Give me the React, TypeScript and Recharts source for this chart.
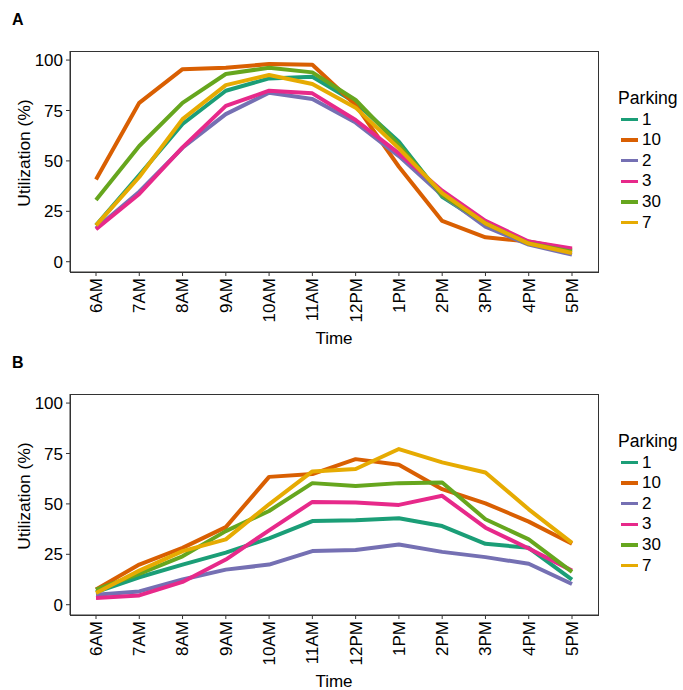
import React from "react";
import { Line, LineChart, XAxis, YAxis } from "recharts";

const times = ["6AM", "7AM", "8AM", "9AM", "10AM", "11AM", "12PM", "1PM", "2PM", "3PM", "4PM", "5PM"];
const yTicks = [0, 25, 50, 75, 100];

const lotNames = ["1", "10", "2", "3", "30", "7"];
const lotColors = ["#1B9E77", "#D95F02", "#7570B3", "#E7298A", "#66A61E", "#E6AB02"];

// panel A
const a1 = [18, 43, 68.3, 84.8, 90.9, 91.7, 79, 59.5, 32.2, 18.5, 9, 5.4];
const a10 = [40.8, 78.8, 95.5, 96.2, 98, 97.7, 77.7, 47.1, 20.2, 12.1, 10, 6];
const a2 = [16.5, 34.7, 56.5, 73.2, 83.8, 80.7, 69, 52.4, 33, 17.4, 8.5, 3.5];
const a3 = [16.1, 33.6, 56.7, 77.3, 84.8, 83.5, 70.3, 53.7, 35.2, 20.3, 10, 6.6];
const a30 = [30.6, 57.4, 78.8, 93.1, 96.2, 93.9, 80.2, 57.9, 33, 19, 9, 5];
const a7 = [18, 42, 70.7, 87.6, 92.6, 88.1, 76.4, 56.2, 34, 19, 9, 4.3];

// panel B
const b1 = [6.3, 13.6, 19.9, 25.8, 32.9, 41.5, 41.9, 42.9, 39, 30.2, 28.2, 12.5];
const b10 = [7.5, 19.9, 28.2, 38.5, 63.4, 64.8, 72.2, 69.4, 57.3, 50.3, 41.2, 30.2];
const b2 = [5, 6.6, 12.5, 17.4, 19.9, 26.6, 27.1, 29.9, 26.2, 23.6, 20.3, 10.3];
const b3 = [3.3, 4.6, 11.3, 22.4, 36.9, 51, 50.7, 49.5, 54, 38.2, 27.9, 16.9];
const b30 = [7.5, 15.3, 24, 36.5, 46.5, 60.3, 58.9, 60.3, 60.6, 42.4, 32.4, 16.3];
const b7 = [5.8, 16.9, 26.6, 32.4, 49.8, 66.1, 67.3, 77.2, 70.6, 65.6, 47.3, 30.7];

const FONT = '"Liberation Sans", Arial, sans-serif';

const buildRows = (series: number[][]) =>
  times.map((time, i) => {
    const row: Record<string, string | number> = { time };
    lotNames.forEach((name, k) => {
      row[name] = series[k][i];
    });
    return row;
  });

const TimeTick = ({ x, y, payload }: any) => (
  <text
    x={x}
    y={y}
    transform={`rotate(-90 ${x} ${y})`}
    textAnchor="end"
    dy="0.35em"
    fontSize={17}
    fontFamily={FONT}
    fill="#000"
  >
    {payload.value}
  </text>
);

function Panel({ label, top, series }: { label: string; top: number; series: number[][] }) {
  const rows = buildRows(series);
  return (
    <div style={{ position: "absolute", left: 0, top, width: 683, height: 343 }}>
      <LineChart
        width={683}
        height={343}
        data={rows}
        margin={{ top: 51, right: 85, bottom: 0, left: 0 }}
      >
        <XAxis
          dataKey="time"
          height={71}
          interval={0}
          padding={{ left: 26, right: 26 }}
          tickSize={4}
          tick={<TimeTick />}
          stroke="#333"
        />
        <YAxis
          width={70}
          domain={[-5.1, 104.5]}
          ticks={yTicks}
          allowDataOverflow
          tickSize={4}
          tickMargin={3}
          stroke="#333"
          tick={{ fill: "#000", fontSize: 17, fontFamily: FONT }}
        />
        {lotNames.map((name, k) => (
          <Line
            key={name}
            dataKey={name}
            stroke={lotColors[k]}
            strokeWidth={4}
            strokeLinejoin="round"
            dot={false}
            activeDot={false}
            isAnimationActive={false}
          />
        ))}
      </LineChart>

      {/* panel border */}
      <div
        style={{
          position: "absolute",
          left: 70,
          top: 51,
          width: 529,
          height: 222,
          boxSizing: "border-box",
          border: "1px solid #333",
          pointerEvents: "none",
        }}
      />

      <div style={{ position: "absolute", left: 12, top: 11, fontFamily: FONT, fontWeight: "bold", fontSize: 16 }}>
        {label}
      </div>
      <div
        style={{
          position: "absolute",
          left: 23.5,
          top: 153,
          transform: "translate(-50%, -50%) rotate(-90deg)",
          whiteSpace: "nowrap",
          fontFamily: FONT,
          fontSize: 17.4,
        }}
      >
        Utilization (%)
      </div>
      <div
        style={{
          position: "absolute",
          left: 334,
          top: 339,
          transform: "translate(-50%, -50%)",
          fontFamily: FONT,
          fontSize: 17,
        }}
      >
        Time
      </div>

      <div style={{ position: "absolute", left: 618, top: 88, fontFamily: FONT, fontSize: 17.6, lineHeight: "20px" }}>
        Parking
      </div>
      {lotNames.map((name, k) => (
        <div
          key={name}
          style={{
            position: "absolute",
            left: 621,
            top: 109.5 + k * 20.6,
            height: 20,
            display: "flex",
            alignItems: "center",
            fontFamily: FONT,
            fontSize: 17,
          }}
        >
          <div style={{ width: 16.5, height: 3.5, background: lotColors[k], marginRight: 4.5 }} />
          {name}
        </div>
      ))}
    </div>
  );
}

export default function App() {
  return (
    <div style={{ position: "absolute", left: 0, top: 0, width: 683, height: 690, background: "#fff" }}>
      <Panel label="A" top={0} series={[a1, a10, a2, a3, a30, a7]} />
      <Panel label="B" top={343} series={[b1, b10, b2, b3, b30, b7]} />
    </div>
  );
}
